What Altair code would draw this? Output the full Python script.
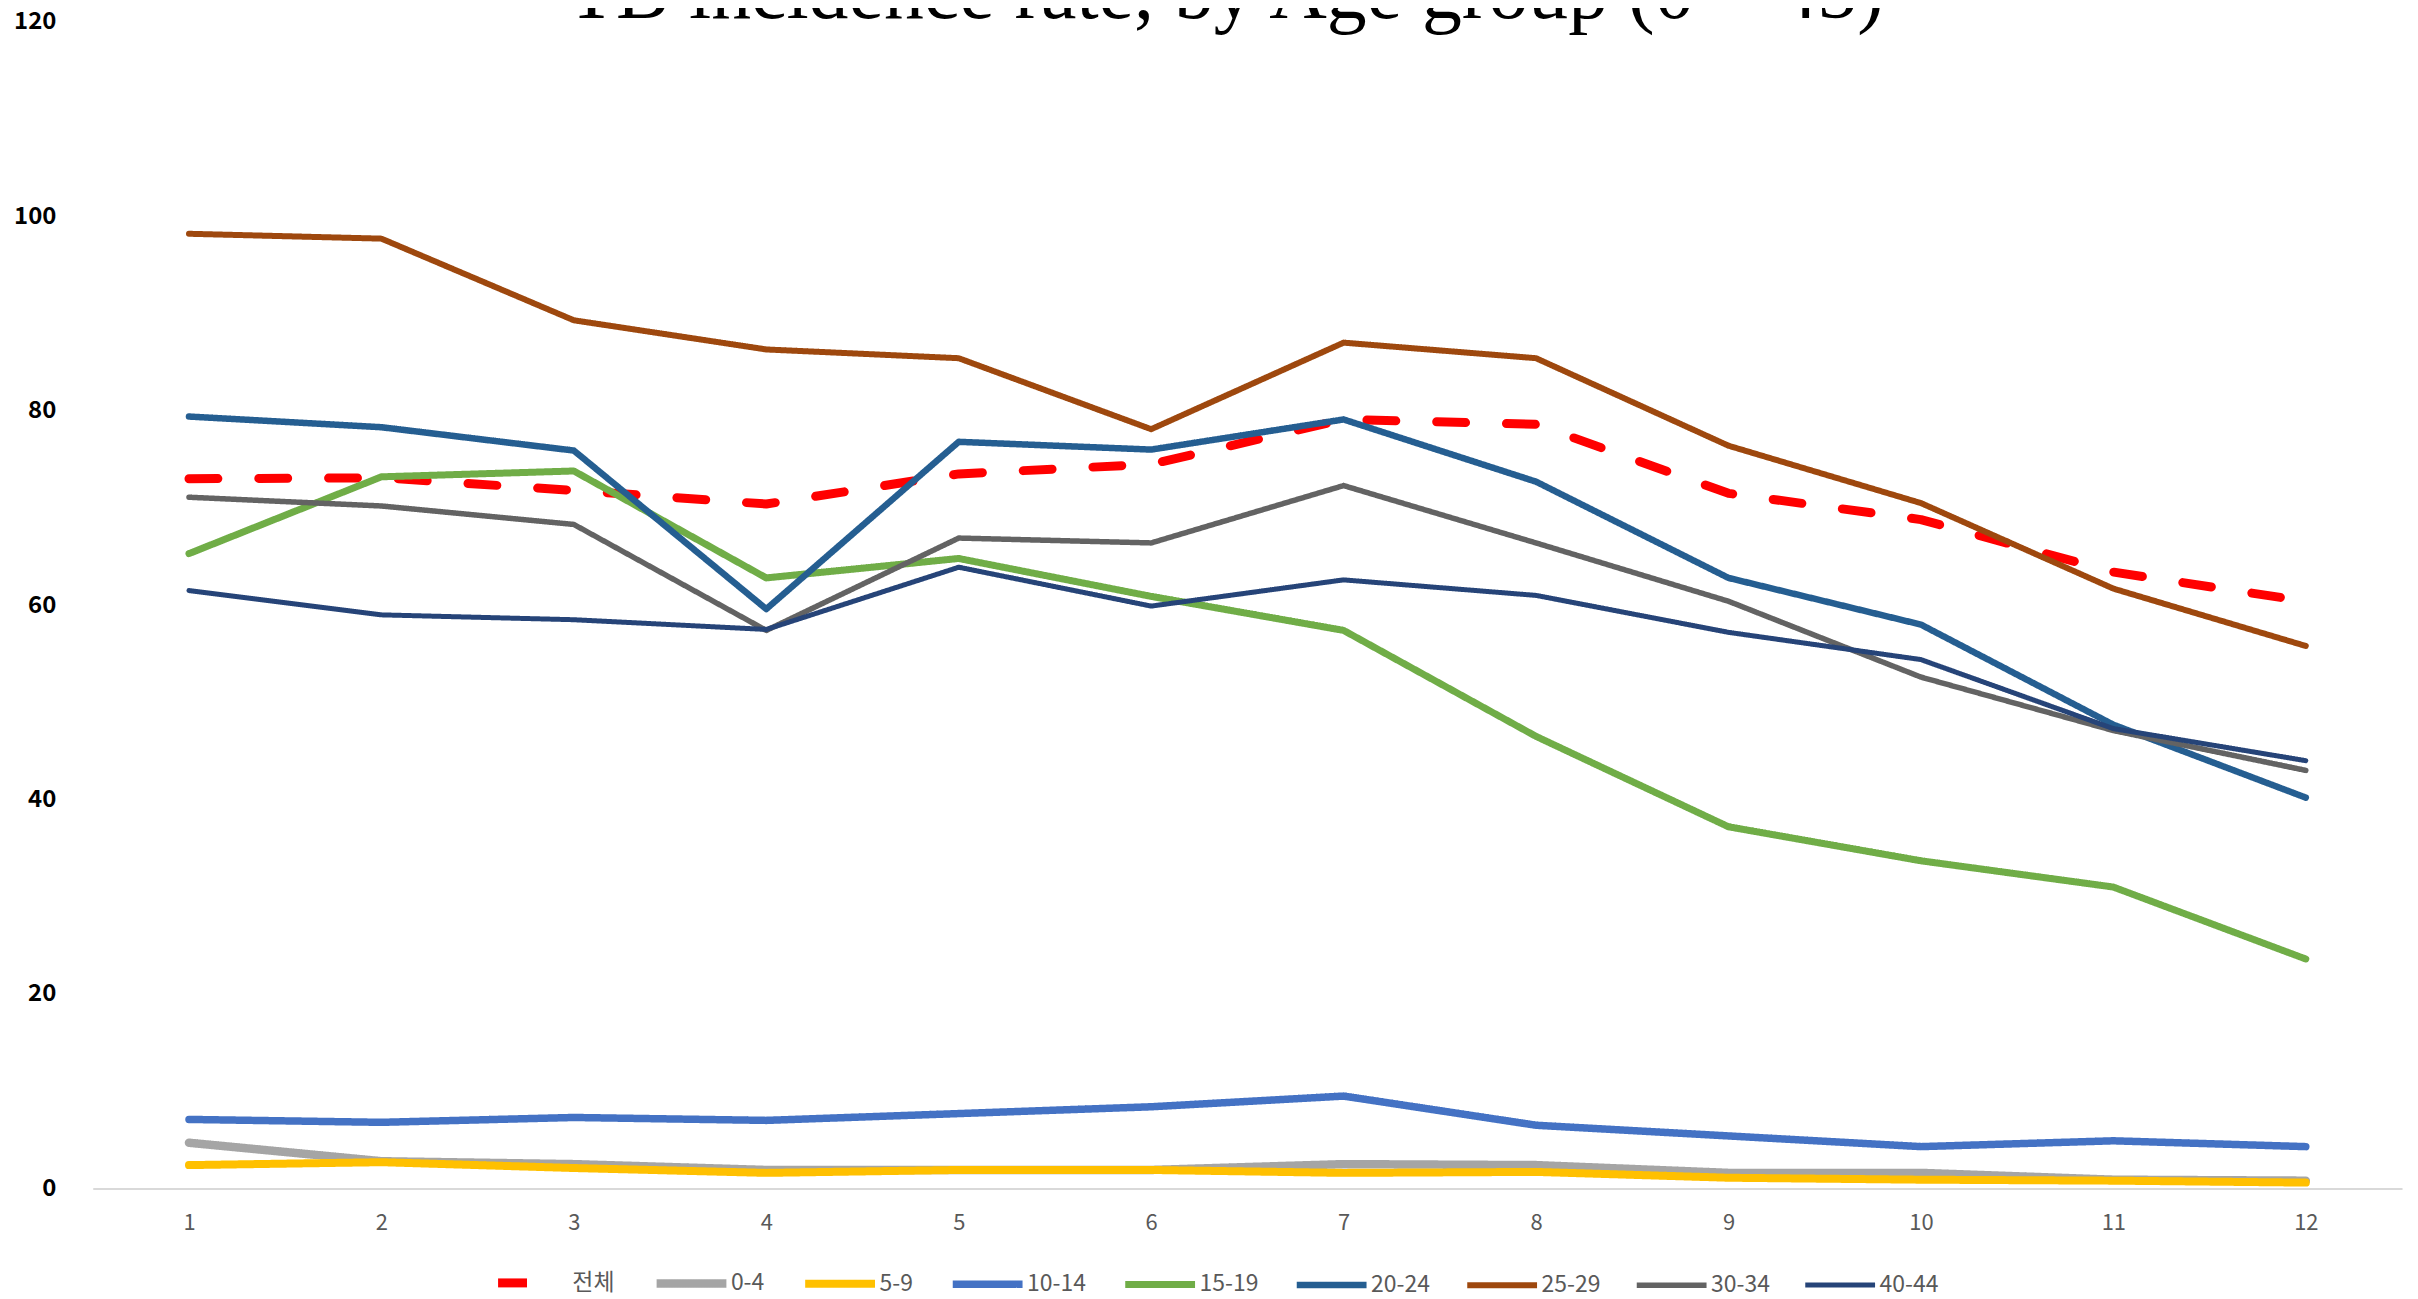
import altair as alt
import pandas as pd

# ---- data ----
months = list(range(1, 13))
series_names = ["전체", "0-4", "5-9", "10-14", "15-19", "20-24", "25-29", "30-34", "40-44"]
series_colors = ["#FF0000", "#A5A5A5", "#FFC000", "#4472C4", "#70AD47",
                 "#255E91", "#9E480E", "#636363", "#264478"]

total = [73.0, 73.1, 71.8, 70.4, 73.5, 74.5, 79.1, 78.6, 71.5, 68.8, 63.4, 60.4]
a0_4 = [4.7, 2.8, 2.5, 1.9, 1.9, 1.9, 2.5, 2.4, 1.6, 1.6, 0.9, 0.8]
a5_9 = [2.4, 2.7, 2.1, 1.6, 1.9, 1.9, 1.6, 1.7, 1.1, 0.9, 0.8, 0.6]
a10_14 = [7.1, 6.8, 7.3, 7.0, 7.7, 8.4, 9.5, 6.5, 5.4, 4.3, 4.9, 4.3]
a15_19 = [65.3, 73.2, 73.8, 62.8, 64.8, 60.9, 57.4, 46.5, 37.2, 33.7, 31.0, 23.6]
a20_24 = [79.4, 78.3, 75.9, 59.6, 76.8, 76.0, 79.1, 72.7, 62.8, 58.0, 47.7, 40.2]
a25_29 = [98.2, 97.7, 89.3, 86.3, 85.4, 78.1, 87.0, 85.4, 76.4, 70.5, 61.7, 55.8]
a30_34 = [71.1, 70.2, 68.3, 57.4, 66.9, 66.4, 72.3, 66.4, 60.4, 52.6, 47.1, 43.0]
a40_44 = [61.5, 59.0, 58.5, 57.5, 63.9, 59.9, 62.6, 61.0, 57.2, 54.4, 47.3, 44.0]

title_text = "TB incidence rate, by Age group (0 ~ 45)"
y_ticks = [0, 20, 40, 60, 80, 100, 120]

series_values = [total, a0_4, a5_9, a10_14, a15_19, a20_24, a25_29, a30_34, a40_44]
rows = []
for name, vals in zip(series_names, series_values):
    for m, v in zip(months, vals):
        rows.append({"month": m, "value": v, "series": name})
df = pd.DataFrame(rows)

W = 2316
H = 1170

color_scale = alt.Scale(domain=series_names, range=series_colors)
dash_scale = alt.Scale(domain=series_names, range=[[29, 41]] + [[1, 0]] * 8)
width_scale = alt.Scale(domain=series_names, range=[9] + [5] * 8)

base = alt.Chart(df).mark_line(strokeCap="round", strokeJoin="round").encode(
    x=alt.X("month:O", scale=alt.Scale(type="point", padding=0.5),
            axis=alt.Axis(title=None, labelAngle=0, ticks=False, domain=True,
                          domainColor="#D9D9D9", domainWidth=2,
                          labelFont="Noto Sans CJK KR", labelFontSize=22,
                          labelColor="#595959", labelPadding=24, grid=False)),
    y=alt.Y("value:Q", scale=alt.Scale(domain=[0, 120], nice=False, zero=True),
            axis=alt.Axis(title=None, values=y_ticks, ticks=False, domain=False,
                          grid=False, labelFont="Noto Sans CJK KR", labelFontSize=24,
                          labelFontWeight="bold", labelColor="#000000",
                          labelPadding=37)),
    color=alt.Color("series:N", scale=color_scale, sort=series_names,
                    legend=alt.Legend(title=None, orient="none", direction="horizontal",
                                      legendX=402, legendY=1225, symbolType="stroke",
                                      symbolSize=4900, labelFont="Noto Sans CJK KR",
                                      labelFontSize=23, labelColor="#595959",
                                      labelOffset=0, columnPadding=24,
                                      columns=9)),
    strokeDash=alt.StrokeDash("series:N", scale=dash_scale, sort=series_names),
    strokeWidth=alt.StrokeWidth("series:N", scale=width_scale, sort=series_names),
)

total_layer = base.transform_filter(alt.datum.series == "전체")
others_layer = base.transform_filter(alt.datum.series != "전체")

title_layer = alt.Chart(pd.DataFrame({"t": [title_text]})).mark_text(
    font="Liberation Serif", fontSize=80, color="#000000", align="center",
    baseline="alphabetic"
).encode(text="t:N", x=alt.value(1136), y=alt.value(-4))

chart = alt.layer(total_layer, others_layer, title_layer).properties(
    width=W, height=H,
    background="white",
    autosize=alt.AutoSizeParams(type="none"),
    padding={"left": 85, "top": 12, "right": 8, "bottom": 108},
).configure_view(strokeWidth=0, stroke="transparent")

chart.save("out.html", embed_options={"renderer": "svg", "actions": False})
